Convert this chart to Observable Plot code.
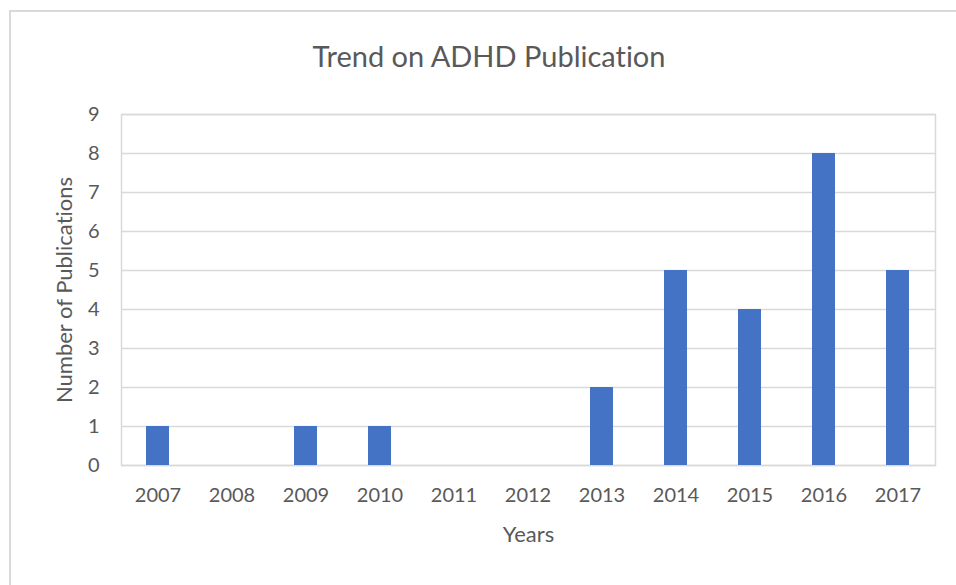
<!DOCTYPE html>
<html><head><meta charset="utf-8">
<script src="https://cdn.jsdelivr.net/npm/d3@7"></script>
<script src="https://cdn.jsdelivr.net/npm/@observablehq/plot@0.6"></script>
<style>
body{margin:0;background:#fff;}
#wrap{position:relative;width:956px;height:585px;overflow:hidden;font-family:Lato,"Open Sans",sans-serif;color:#595959;font-variant-ligatures:none;}
#wrap svg text{font-variant-ligatures:none;}
#border{position:absolute;left:9px;top:10px;width:2000px;height:2000px;border:2px solid #d9d9d9;}
#title{position:absolute;left:0;top:38px;width:978px;text-align:center;font-size:29px;line-height:36px;color:#595959;}
#chart{position:absolute;left:0;top:0;}
</style></head>
<body>
<div id="wrap"><div id="border"></div><div id="title">Trend on ADHD Publication</div><div id="chart"></div></div>
<script>
const years = ["2007","2008","2009","2010","2011","2012","2013","2014","2015","2016","2017"];
const publications = [1,0,1,1,0,0,2,5,4,8,5];
const yTicks = [0,1,2,3,4,5,6,7,8,9];
const xLabel = "Years";
const yLabel = "Number of Publications";

const data = years.map((y,i)=>({year:y, count:publications[i]}));

const plot = Plot.plot({
  width:956, height:585,
  marginLeft:121, marginRight:21, marginTop:114, marginBottom:120,
  style:{fontFamily:"Lato, 'Open Sans', sans-serif", fontSize:"20px", color:"#595959", background:"transparent", fontVariantLigatures:"none"},
  x:{domain:years, paddingInner:0.685, paddingOuter:0.3425, label:null},
  y:{domain:[0,9], ticks:yTicks, label:null},
  marks:[
    Plot.gridY(yTicks,{stroke:"#d9d9d9", strokeOpacity:1, strokeWidth:1.5}),
    Plot.frame({stroke:"#d9d9d9", strokeWidth:1.5}),
    Plot.barY(data,{x:"year", y:"count", fill:"#4472C4"}),
    Plot.axisY({ticks:yTicks, tickSize:0, tickPadding:22, label:null, fill:"#595959"}),
    Plot.axisX({tickSize:0, tickPadding:22, label:null, fill:"#595959"}),
    Plot.text([xLabel],{frameAnchor:"bottom", dy:76, fill:"#595959", fontSize:22}),
    Plot.text([yLabel],{frameAnchor:"left", rotate:-90, dx:-57, textAnchor:"middle", fill:"#595959", fontSize:22})
  ]
});
document.getElementById("chart").appendChild(plot);
</script>
</body></html>
